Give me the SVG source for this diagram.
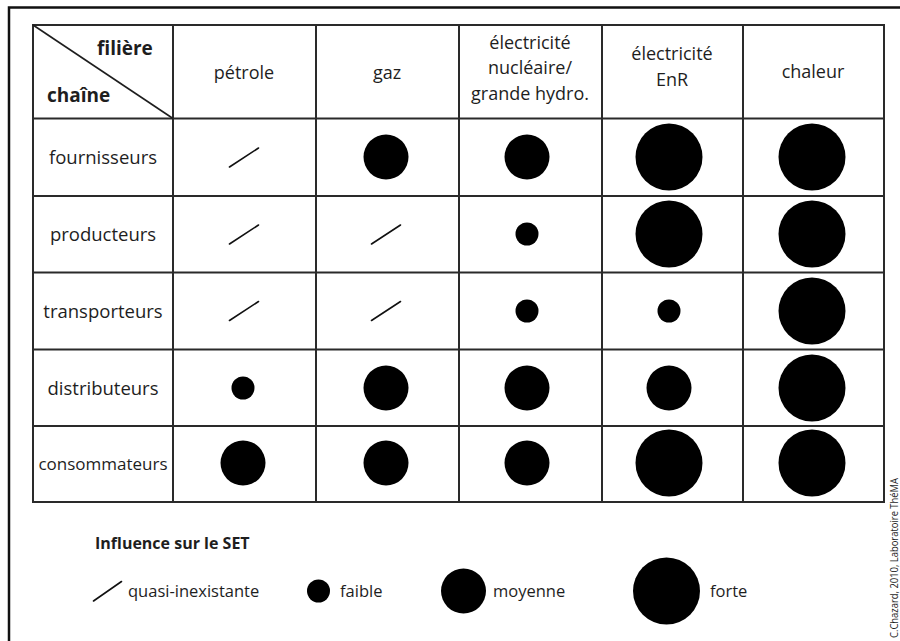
<svg xmlns="http://www.w3.org/2000/svg" width="900" height="641" viewBox="0 0 900 641">
<style>
  text { font-family: "Open Sans", "Noto Sans", "Liberation Sans", sans-serif; fill: #1e1e1e; }
  .h { font-size: 18px; text-anchor: middle; }
  .r { font-size: 18.5px; text-anchor: middle; }
  .b { font-weight: bold; font-size: 19px; }
  .lg { font-size: 16.5px; }
  .grid { stroke: #2a2a2a; stroke-width: 2; fill: none; }
  .sl { stroke: #111; stroke-width: 1.6; stroke-linecap: round; }
  .dot { fill: #000; }
</style>
<defs>
  <line id="slash" x1="-14.5" y1="9.5" x2="14.5" y2="-9.5" class="sl"/>
  <circle id="faible" r="11.5" class="dot"/>
  <circle id="moyenne" r="22.5" class="dot"/>
  <circle id="forte" r="33.5" class="dot"/>
</defs>
<rect width="900" height="641" fill="#fff"/>
<!-- outer frame (cropped) -->
<path d="M9,641 V7.5 H900" fill="none" stroke="#111" stroke-width="2.5"/>

<!-- table grid -->
<g id="grid">
  <rect x="33" y="25" width="851" height="477" class="grid"/>
  <path class="grid" d="M33,118.5 H884 M33,196 H884 M33,272.5 H884 M33,349.5 H884 M33,426 H884
                        M173,25 V502 M316,25 V502 M459,25 V502 M602,25 V502 M743,25 V502"/>
  <line x1="33" y1="25" x2="173" y2="118.5" stroke="#1e1e1e" stroke-width="1.6"/>
</g>

<!-- header -->
<g id="header">
  <text class="b" x="97" y="55">filière</text>
  <text class="b" x="47" y="102">chaîne</text>
  <text class="h" x="244" y="79">pétrole</text>
  <text class="h" x="387" y="79">gaz</text>
  <text class="h" x="530" y="49">électricité</text>
  <text class="h" x="530" y="74">nucléaire/</text>
  <text class="h" x="530" y="100">grande hydro.</text>
  <text class="h" x="672" y="60">électricité</text>
  <text class="h" x="672" y="86">EnR</text>
  <text class="h" x="813" y="78">chaleur</text>
</g>

<!-- row labels -->
<g id="rows">
  <text class="r" x="103" y="164">fournisseurs</text>
  <text class="r" x="103" y="241">producteurs</text>
  <text class="r" x="103" y="318">transporteurs</text>
  <text class="r" x="103" y="395">distributeurs</text>
  <text class="r" x="103" y="470" style="font-size:17px">consommateurs</text>
</g>

<!-- cells -->
<g id="cells">
  <use href="#slash" x="244" y="157.5"/>
  <use href="#moyenne" x="386" y="157"/>
  <use href="#moyenne" x="527" y="157"/>
  <use href="#forte" x="669" y="157"/>
  <use href="#forte" x="812" y="157"/>

  <use href="#slash" x="244" y="234.5"/>
  <use href="#slash" x="386" y="234.5"/>
  <use href="#faible" x="527" y="234"/>
  <use href="#forte" x="669" y="234"/>
  <use href="#forte" x="812" y="234"/>

  <use href="#slash" x="244" y="311"/>
  <use href="#slash" x="386" y="311"/>
  <use href="#faible" x="527" y="311"/>
  <use href="#faible" x="669" y="311"/>
  <use href="#forte" x="812" y="311"/>

  <use href="#faible" x="243" y="388"/>
  <use href="#moyenne" x="386" y="388"/>
  <use href="#moyenne" x="527" y="388"/>
  <use href="#moyenne" x="669" y="388"/>
  <use href="#forte" x="812" y="388"/>

  <use href="#moyenne" x="243" y="463"/>
  <use href="#moyenne" x="386" y="463"/>
  <use href="#moyenne" x="527" y="463"/>
  <use href="#forte" x="669" y="463"/>
  <use href="#forte" x="812" y="463"/>
</g>

<!-- legend -->
<g id="legend">
  <text x="95" y="549" style="font-weight:bold;font-size:16px">Influence sur le SET</text>
  <line x1="93.5" y1="601" x2="121.5" y2="581.5" class="sl"/>
  <text class="lg" x="128" y="597">quasi-inexistante</text>
  <use href="#faible" x="318.5" y="591"/>
  <text class="lg" x="340" y="597">faible</text>
  <use href="#moyenne" x="463.5" y="591"/>
  <text class="lg" x="493" y="597">moyenne</text>
  <use href="#forte" x="666.5" y="591"/>
  <text class="lg" x="710" y="597">forte</text>
</g>

<!-- credit -->
<text transform="translate(897.5,638) rotate(-90)" style="font-size:10.5px" textLength="160" lengthAdjust="spacingAndGlyphs">C.Chazard, 2010, Laboratoire ThéMA</text>
</svg>
